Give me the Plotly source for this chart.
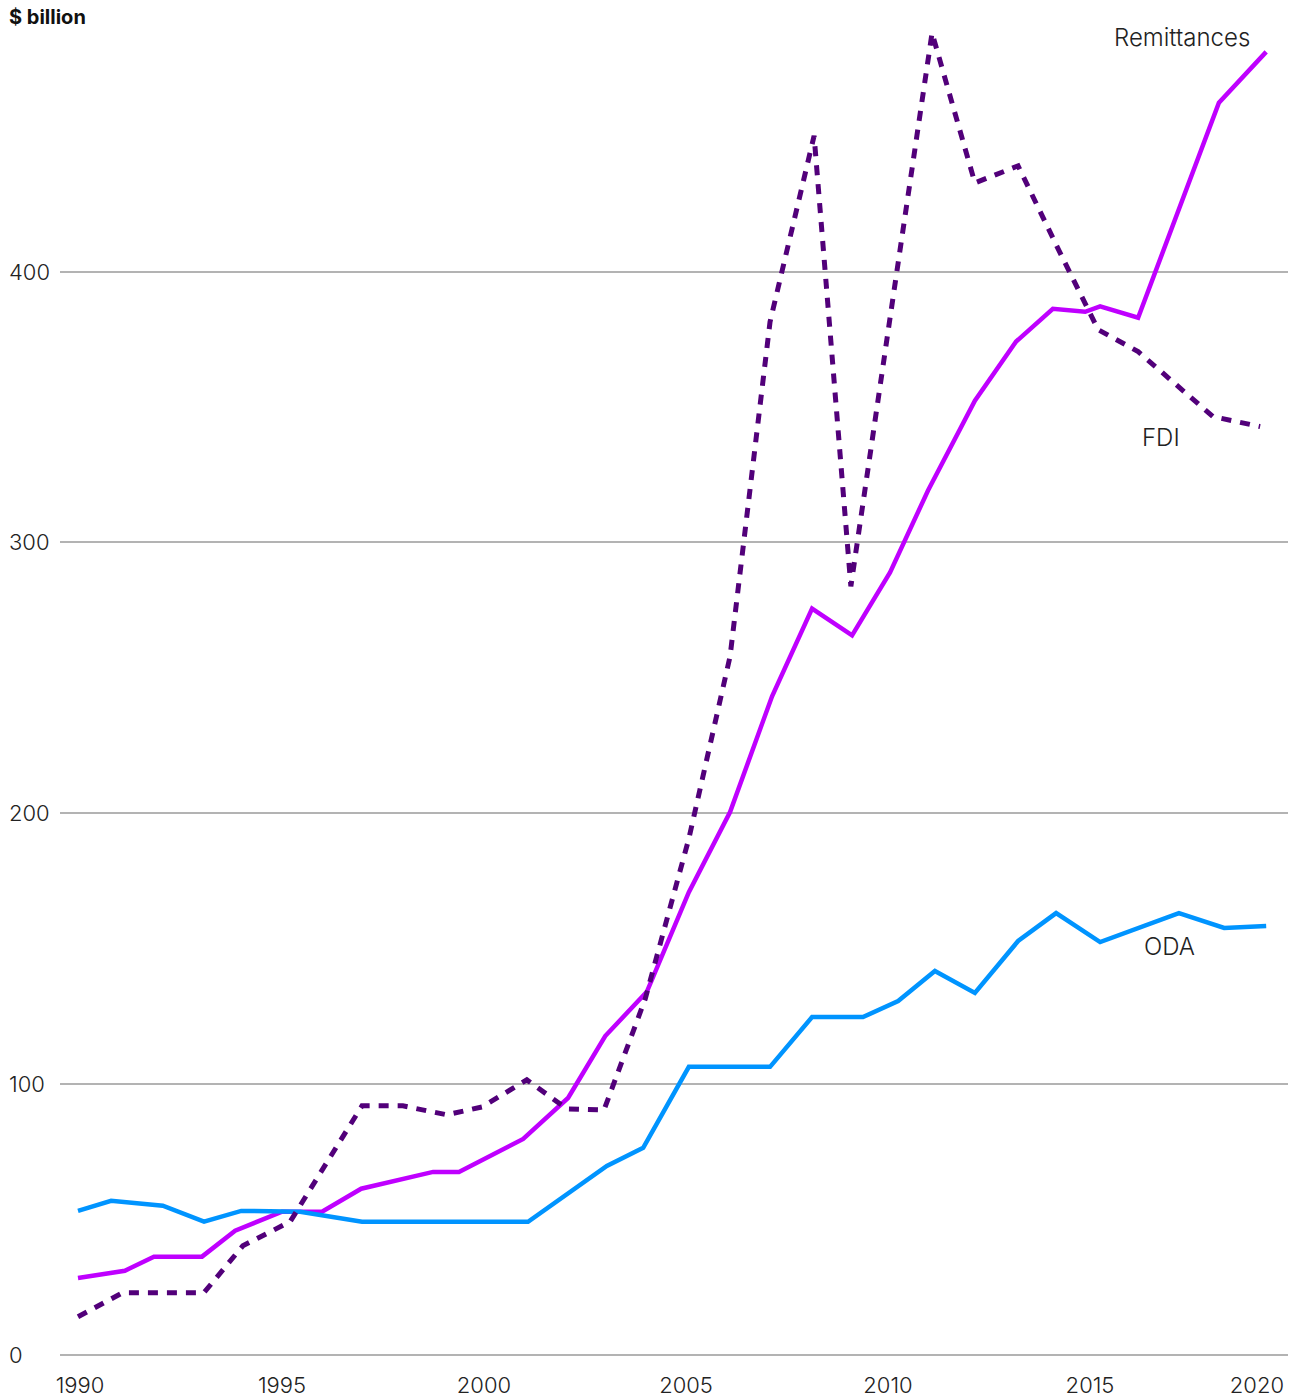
import plotly.graph_objects as go

# ---- data (years; values in $ billion) ----
remit_years = [1989.95, 1991.11, 1991.83, 1993.02, 1993.84, 1995.00, 1995.99, 1996.96,
               1998.74, 1999.38, 2000.97, 2002.08, 2003.00, 2004.03, 2005.07, 2006.09,
               2007.13, 2008.12, 2009.11, 2010.05, 2010.99, 2012.15, 2013.17, 2014.08,
               2014.88, 2015.25, 2016.19, 2018.19, 2019.36]
remit_values = [28.3, 31.0, 36.2, 36.2, 45.8, 52.8, 52.8, 61.3,
                67.5, 67.5, 79.7, 94.8, 117.7, 134.0, 170.8, 200.4,
                243.2, 275.6, 265.7, 288.9, 319.2, 352.4, 374.2, 386.3,
                385.2, 387.2, 383.0, 462.4, 481.2]

oda_years = [1989.95, 1990.77, 1992.05, 1993.07, 1993.99, 1995.45, 1996.98, 2001.09,
             2003.04, 2003.94, 2005.07, 2007.08, 2008.12, 2009.38, 2010.25, 2011.16,
             2012.15, 2013.22, 2014.16, 2015.25, 2017.20, 2018.32, 2019.36]
oda_values = [53.1, 56.8, 55.0, 49.1, 53.1, 52.8, 49.1, 49.1,
              69.7, 76.4, 106.3, 106.3, 124.7, 124.7, 130.6, 141.7,
              133.6, 152.8, 163.1, 152.4, 163.1, 157.6, 158.3]

fdi_years = [1989.95, 1991.06, 1993.07, 1994.03, 1995.20, 1996.98, 1997.99, 1999.08,
             1999.95, 2001.06, 2002.05, 2002.97, 2003.99, 2005.07, 2006.09, 2007.08,
             2008.17, 2009.08, 2010.07, 2011.09, 2012.15, 2013.22, 2014.16, 2015.20,
             2016.19, 2017.18, 2018.04, 2019.21]
fdi_values = [14.0, 22.9, 22.9, 40.2, 49.1, 91.9, 91.9, 88.6,
              91.5, 101.5, 90.8, 90.4, 131.4, 190.6, 257.9, 381.5,
              450.2, 283.8, 385.0, 488.2, 432.8, 439.1, 410.0, 378.6,
              370.5, 357.6, 346.5, 342.8]

x_tick_vals = [1990, 1995, 2000, 2005, 2010, 2015, 2019.13]
x_tick_text = ["1990", "1995", "2000", "2005", "2010", "2015", "2020"]
y_ticks = [0, 100, 200, 300, 400]

series_labels = [
    ("Remittances", 2017.28, 486.7),
    ("FDI", 2016.76, 338.7),
    ("ODA", 2016.96, 150.9),
]

# ---- styles ----
C_REMIT = "#bf00ff"
C_ODA = "#0094ff"
C_FDI = "#52007a"
FONT = "Inter"
TXT = "#222222"

fig = go.Figure()
fig.add_trace(go.Scatter(x=remit_years, y=remit_values, mode="lines", name="Remittances",
                         line=dict(color=C_REMIT, width=4.5), hoverinfo="skip"))
fig.add_trace(go.Scatter(x=oda_years, y=oda_values, mode="lines", name="ODA",
                         line=dict(color=C_ODA, width=4.5), hoverinfo="skip"))
fig.add_trace(go.Scatter(x=fdi_years, y=fdi_values, mode="lines", name="FDI",
                         line=dict(color=C_FDI, width=5, dash="10px,9px"), hoverinfo="skip"))

W, H = 1297, 1400
ml, mr, mt, mb = 60, 9, 1, 44
plot_w = W - ml - mr
lab_x = (7 - ml) / plot_w

annotations = []
for t in y_ticks:
    annotations.append(dict(x=lab_x, xref="paper", y=t, yref="y", text=str(t),
                            showarrow=False, xanchor="left", yanchor="middle",
                            font=dict(family=FONT, size=22, color=TXT, weight=300)))
annotations.append(dict(x=(7 - ml) / plot_w, xref="paper", y=(1356 - 17) / 1355, yref="paper",
                        text="<b>$ billion</b>", showarrow=False, xanchor="left",
                        yanchor="middle", font=dict(family=FONT, size=20, color="#111111")))
for name, xx, yy in series_labels:
    annotations.append(dict(x=xx, y=yy, xref="x", yref="y", text=name, showarrow=False,
                            xanchor="center", yanchor="middle",
                            font=dict(family=FONT, size=24, color=TXT, weight=300)))

fig.update_layout(
    width=W, height=H,
    margin=dict(l=ml, r=mr, t=mt, b=mb),
    paper_bgcolor="white", plot_bgcolor="white",
    showlegend=False,
    annotations=annotations,
    xaxis=dict(range=[1989.505, 2019.90], tickvals=x_tick_vals, ticktext=x_tick_text,
               showgrid=False, zeroline=False, showline=False, ticks="",
               ticklabelstandoff=14,
               tickfont=dict(family=FONT, size=22, color=TXT, weight=300)),
    yaxis=dict(range=[-0.5, 500], tickvals=y_ticks, showticklabels=False,
               showgrid=True, gridcolor="#b3b3b3", gridwidth=1.5,
               zeroline=False, showline=False, ticks=""),
)

fig.write_html("out.html", config={"displayModeBar": False},
               post_script="document.body.style.margin='0';document.body.style.overflow='hidden';")
